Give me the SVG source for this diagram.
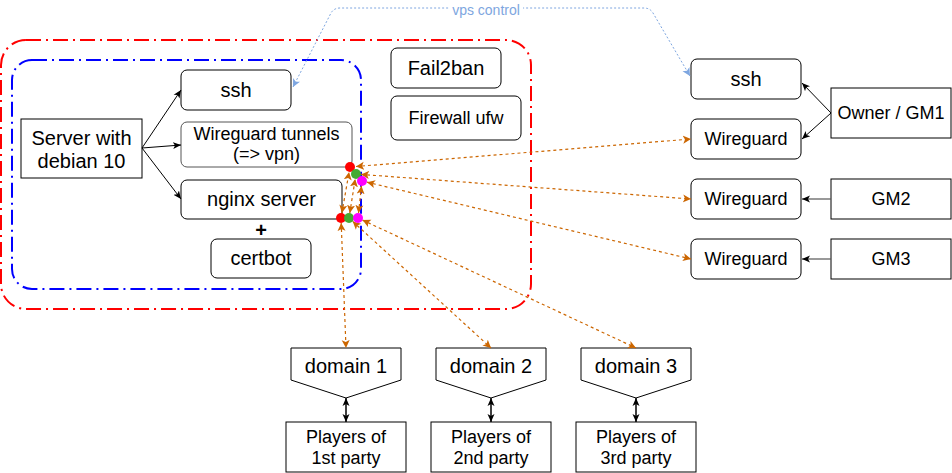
<svg xmlns="http://www.w3.org/2000/svg" width="952" height="473" viewBox="0 0 952 473">
<style>
text{font-family:"Liberation Sans",Arial,sans-serif;fill:#000;text-anchor:middle}
.b{fill:#fff;stroke:#000;stroke-width:1}
.t20{font-size:20px}
.t18{font-size:18px}
.blk{fill:none;stroke:#000;stroke-width:1}
.org{fill:none;stroke:#CC6600;stroke-width:1.2;stroke-dasharray:3 3}
.vps{fill:none;stroke:#7EA6E0;stroke-width:1;stroke-dasharray:2 2}
</style>
<defs>
<marker id="ak" markerUnits="userSpaceOnUse" markerWidth="10" markerHeight="8" refX="8" refY="4" orient="auto-start-reverse"><path d="M0,0.5 L8,4 L0,7.5 L2,4 z" fill="#000"/></marker>
<marker id="ao" markerUnits="userSpaceOnUse" markerWidth="10" markerHeight="10" refX="8" refY="4.5" orient="auto-start-reverse"><path d="M0,0.5 L8,4.5 L0,8.5 L2,4.5 z" fill="#CC6600"/></marker>
<marker id="ab" markerUnits="userSpaceOnUse" markerWidth="10" markerHeight="10" refX="8" refY="4.5" orient="auto-start-reverse"><path d="M0,0.5 L8,4.5 L0,8.5 L2,4.5 z" fill="#7EA6E0"/></marker>
</defs>

<g id="container-red"><rect x="1" y="40" width="530" height="269" rx="25" fill="none" stroke="#FF0000" stroke-width="2" stroke-dasharray="15 5 2 5"/></g>
<g id="container-blue"><rect x="12" y="60" width="349" height="229" rx="20" fill="none" stroke="#0000FF" stroke-width="2" stroke-dasharray="15 5 2 5"/></g>

<g id="server"><rect class="b" x="21" y="119" width="121" height="59"/><text class="t20" x="81.5" y="145">Server with</text><text class="t20" x="81.5" y="168">debian 10</text></g>
<g id="ssh-srv"><rect class="b" x="181" y="70" width="110" height="40" rx="6"/><text class="t20" x="236" y="97">ssh</text></g>
<g id="wg-tunnels"><rect x="181" y="122" width="171" height="45" rx="6" fill="#fff" stroke="#555" stroke-width="1"/><text class="t18" x="266.5" y="140">Wireguard tunnels</text><text class="t18" x="266.5" y="160">(=&gt; vpn)</text></g>
<g id="nginx"><rect class="b" x="181" y="180" width="161" height="39" rx="6"/><text class="t20" x="261.5" y="206">nginx server</text></g>
<g id="plus"><text x="261" y="237" style="font-size:20px;font-weight:bold">+</text></g>
<g id="certbot"><rect class="b" x="211" y="239" width="100" height="39" rx="6"/><text class="t20" x="261" y="265">certbot</text></g>
<g id="fail2ban"><rect class="b" x="391" y="48" width="110" height="40" rx="6"/><text class="t20" x="446" y="75">Fail2ban</text></g>
<g id="firewall"><rect class="b" x="391" y="96" width="130" height="44" rx="6"/><text class="t18" x="456" y="124">Firewall ufw</text></g>

<g id="ssh-client"><rect class="b" x="691" y="59" width="110" height="40" rx="6"/><text class="t20" x="746" y="86">ssh</text></g>
<g id="wg1"><rect class="b" x="691" y="119" width="110" height="40" rx="6"/><text class="t18" x="746" y="145">Wireguard</text></g>
<g id="wg2"><rect class="b" x="691" y="179" width="110" height="40" rx="6"/><text class="t18" x="746" y="205">Wireguard</text></g>
<g id="wg3"><rect class="b" x="691" y="239" width="110" height="40" rx="6"/><text class="t18" x="746" y="265">Wireguard</text></g>
<g id="owner"><rect class="b" x="831" y="88" width="120" height="50"/><text class="t18" x="891" y="119">Owner / GM1</text></g>
<g id="gm2"><rect class="b" x="831" y="179" width="120" height="40"/><text class="t18" x="891" y="205">GM2</text></g>
<g id="gm3"><rect class="b" x="831" y="239" width="120" height="40"/><text class="t18" x="891" y="265">GM3</text></g>

<g id="domain1"><path class="b" d="M291,348 H401 V380 L346,398 L291,380 Z"/><text class="t20" x="346" y="373">domain 1</text></g>
<g id="domain2"><path class="b" d="M436,348 H546 V380 L491,398 L436,380 Z"/><text class="t20" x="491" y="373">domain 2</text></g>
<g id="domain3"><path class="b" d="M581,348 H691 V380 L636,398 L581,380 Z"/><text class="t20" x="636" y="373">domain 3</text></g>
<g id="players1"><rect class="b" x="286" y="422" width="120" height="50"/><text class="t18" x="346" y="443">Players of</text><text class="t18" x="346" y="464">1st party</text></g>
<g id="players2"><rect class="b" x="431" y="422" width="120" height="50"/><text class="t18" x="491" y="443">Players of</text><text class="t18" x="491" y="464">2nd party</text></g>
<g id="players3"><rect class="b" x="576" y="422" width="120" height="50"/><text class="t18" x="636" y="443">Players of</text><text class="t18" x="636" y="464">3rd party</text></g>

<g id="connectors">
<path class="blk" d="M142,148 L181,90" marker-end="url(#ak)"/>
<path class="blk" d="M142,148 L181,145" marker-end="url(#ak)"/>
<path class="blk" d="M142,148 L181,199" marker-end="url(#ak)"/>
<path class="blk" d="M831,113 L802,83" marker-end="url(#ak)"/>
<path class="blk" d="M831,113 L802,139" marker-end="url(#ak)"/>
<path d="M831,199 L802,199" fill="none" stroke="#555" stroke-width="1.2" marker-end="url(#ak)"/>
<path d="M831,259 L802,259" fill="none" stroke="#555" stroke-width="1.2" marker-end="url(#ak)"/>
<path d="M346,398 L346,422" fill="none" stroke="#000" stroke-width="1.5" marker-start="url(#ak)" marker-end="url(#ak)"/>
<path d="M491,398 L491,422" fill="none" stroke="#000" stroke-width="1.5" marker-start="url(#ak)" marker-end="url(#ak)"/>
<path d="M636,398 L636,422" fill="none" stroke="#000" stroke-width="1.5" marker-start="url(#ak)" marker-end="url(#ak)"/>

<path class="vps" d="M293,87 L331,13 Q334,8 340,8 L644,8 Q650,8 653,13 L690,76" marker-start="url(#ab)" marker-end="url(#ab)"/>
<rect x="449" y="2" width="74" height="14" fill="#fff"/>
<text x="486" y="15" style="font-size:14px;fill:#7EA6E0">vps control</text>

<path class="org" d="M356,166.5 L691,139" marker-start="url(#ao)" marker-end="url(#ao)"/>
<path class="org" d="M361,174.4 L691,199" marker-start="url(#ao)" marker-end="url(#ao)"/>
<path class="org" d="M367,182.2 L691,259" marker-start="url(#ao)" marker-end="url(#ao)"/>
<path class="org" d="M341.9,213 L349.1,172" marker-start="url(#ao)" marker-end="url(#ao)"/>
<path class="org" d="M349.8,213 L355.2,179" marker-start="url(#ao)" marker-end="url(#ao)"/>
<path class="org" d="M358.5,213 L361.5,186" marker-start="url(#ao)" marker-end="url(#ao)"/>
<path class="org" d="M341.2,223 L346,348" marker-start="url(#ao)" marker-end="url(#ao)"/>
<path class="org" d="M352.7,221.4 L491,348" marker-start="url(#ao)" marker-end="url(#ao)"/>
<path class="org" d="M362.5,220.1 L636,348" marker-start="url(#ao)" marker-end="url(#ao)"/>
</g>

<g id="dot-red-top"><circle cx="350" cy="167" r="5" fill="#FF0000"/></g>
<g id="dot-green-top"><circle cx="356" cy="174" r="5" fill="#44AA33"/></g>
<g id="dot-magenta-top"><circle cx="362" cy="181" r="5" fill="#FF00FF"/></g>
<g id="dot-red-bot"><circle cx="341" cy="218" r="5" fill="#FF0000"/></g>
<g id="dot-green-bot"><circle cx="349" cy="218" r="5" fill="#44AA33"/></g>
<g id="dot-magenta-bot"><circle cx="358" cy="218" r="5" fill="#FF00FF"/></g>
</svg>
